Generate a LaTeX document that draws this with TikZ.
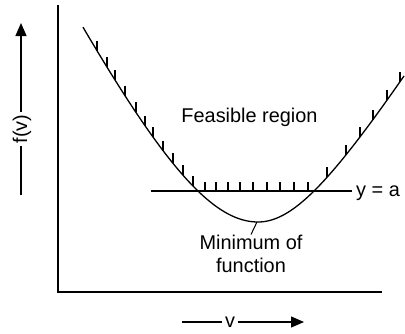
\documentclass[tikz,border=0pt]{standalone}
\usepackage{fontspec}
\setmainfont{Liberation Sans}
\usetikzlibrary{arrows.meta}

\tikzset{
  declare function={
    fl(\x)=439-100*sqrt(4.7089+4*((\x-258)/100)^2);
    fr(\x)=336.5-100*sqrt(1.311+2.569*((\x-258)/100)^2);
  },
  axis/.style={line width=1.6pt},
  curve/.style={line width=1.3pt},
  hatch/.style={line width=1.1pt},
  label/.style={inner sep=0pt, font=\fontsize{19.9}{23}\selectfont},
  pointer/.style={line width=1.2pt, -{Triangle[length=13pt,width=11pt]}}
}

\begin{document}
\begin{tikzpicture}[x=1pt,y=-1pt]
\useasboundingbox (0,0) rectangle (405,333);
% axes
\coordinate (origin) at (58,292);
\coordinate (ytop) at (58,5);
\coordinate (xend) at (382,292);
\draw[axis] (ytop) -- (origin) -- (xend);
% axis labels with arrows
\node[label, rotate=90, inner sep=2pt] (fv) at (22,129) {f(v)};
\coordinate (fvlow) at (21,195);
\coordinate (fvtip) at (21,23);
\draw[line width=1.2pt] (fvlow) -- (fv.west -| fvlow);
\draw[pointer] (fv.east -| fvlow) -- (fvtip);
\node[label, inner sep=2.5pt] (v) at (230,322) {v};
\coordinate (vlow) at (182,322);
\coordinate (vtip) at (304,322);
\draw[line width=1.2pt] (vlow) -- (v.west);
\draw[pointer] (v.east) -- (vtip);
% the function
\draw[curve] plot[domain=83:258, samples=70] (\x,{fl(\x)});
\draw[curve] plot[domain=258:404, samples=60] (\x,{fr(\x)});
% the constraint y = a
\coordinate (aleft) at (151,191);
\coordinate (aright) at (352,191);
\draw[curve] (aleft) -- (aright);
\node[label, anchor=base west] (ya) at (356,196) {y = a};
% hatching on the feasible side
\foreach \x in {97,107,115,125,136,145,153,163,173,183,193}
  \draw[hatch] (\x,{fl(\x)}) -- ++(0,-10);
\foreach \x in {205,216,228,240,253,267,280,294,308}
  \draw[hatch] (\x,191) -- ++(0,-9);
\foreach \x in {327,346,360,373,387,400}
  \draw[hatch] (\x,{fr(\x)}) -- ++(0,-10);
% labels
\node[label, anchor=base] (feas) at (249.5,122) {Feasible region};
\coordinate (minpt) at (257,222);
\node[label, anchor=north, align=center] (minlbl) at (251,234.5) {Minimum of\\function};
\draw[line width=1pt] (minpt) -- (minlbl.north);
\end{tikzpicture}
\end{document}
